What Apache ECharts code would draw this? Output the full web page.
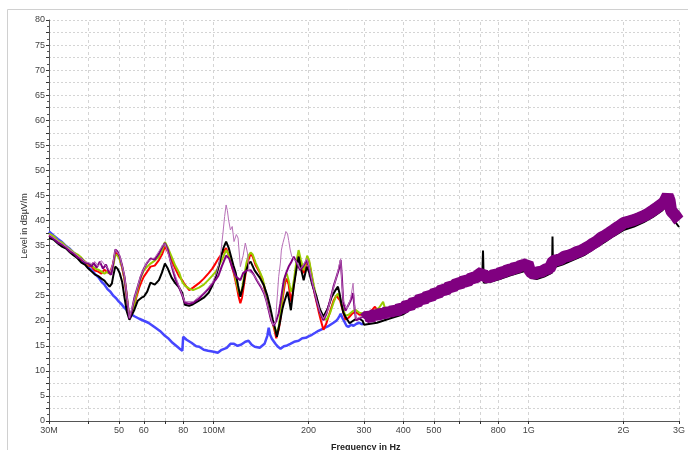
<!DOCTYPE html>
<html><head><meta charset="utf-8">
<script src="https://cdn.jsdelivr.net/npm/echarts@6/dist/echarts.min.js"></script>
<style>html,body{margin:0;padding:0;background:#fff}#c{width:688px;height:450px}</style>
</head><body><div id="c"></div>
<script>
// Frequencies in MHz, levels in dBµV/m
const xTickValues = [30,40,50,60,70,80,100,200,300,400,500,600,700,800,1000,2000,3000];
const xLabelValues = [30,50,60,80,100,200,300,400,500,800,1000,2000,3000];
const xLabelTexts = ['30M','50','60','80','100M','200','300','400','500','800','1G','2G','3G'];

const blueTrace = [[30,37.8],[31,37.0],[32,36.3],[33,35.7],[34,34.9],[35,34.3],[36,33.5],[37,32.9],[38,32.0],[39,31.5],[40,30.6],[41,30.1],[42,29.3],[43,28.7],[44,27.8],[45,27.2],[46,26.3],[47,25.8],[48,25.0],[49,24.5],[50,23.8],[51,23.3],[52,22.6],[53,22.1],[54,21.4],[55,21.2],[56,20.9],[58,20.4],[60,20.0],[62,19.6],[64,19.0],[66,18.4],[68,17.8],[70,17.0],[72,16.4],[74,15.6],[76,15.0],[78,14.4],[79.5,14.0],[80,16.8],[82,16.2],[85,15.6],[88,14.9],[90,14.8],[93,14.2],[96,14.0],[100,13.8],[103,13.6],[106,14.2],[110,14.6],[113,15.4],[116,15.4],[119,15.0],[122,15.2],[126,15.8],[129,16.0],[132,15.2],[135,14.8],[140,14.6],[145,15.4],[148,17.0],[149.5,18.6],[151,17.2],[153,16.4],[157,15.4],[160,14.8],[163,14.4],[167,14.9],[170,15.0],[175,15.4],[180,15.8],[186,16.0],[191,16.5],[196,16.6],[200,16.9],[205,17.2],[210,17.6],[215,18.0],[220,18.3],[225,18.6],[232,19.0],[240,19.6],[245,20.0],[248,20.4],[251,21.0],[253,21.4],[256,20.6],[260,19.8],[264,19.0],[268,18.8],[273,19.2],[278,19.0],[284,19.4],[290,19.6],[295,19.3],[300,19.5]];

const redTrace = [[30,37.0],[31,36.6],[32,35.8],[33,35.4],[34,34.6],[35,34.0],[36,33.4],[37,32.9],[38,32.2],[39,31.8],[40,31.0],[41,30.8],[42,30.0],[43,29.8],[44,29.4],[45,30.2],[46,29.6],[47,29.8],[48,31.5],[48.7,33.6],[49.5,33.2],[50.3,32.4],[51.2,30.6],[52.1,28.2],[52.8,25.5],[53.3,23.0],[54,20.6],[55,21.8],[56,23.2],[57,25.0],[58,26.6],[59,27.8],[60,28.8],[61.5,29.8],[63,30.8],[65,31.0],[67,32.1],[68.5,33.2],[70,34.8],[71.5,33.8],[73.5,32.1],[75.5,30.4],[77.7,28.8],[79.4,28.1],[81,27.2],[83.6,26.1],[86,26.6],[89.8,27.5],[93,28.4],[96.4,29.5],[99,30.4],[101.5,31.5],[104,32.6],[106.6,33.5],[109.5,34.5],[112,32.8],[114,31.0],[115.8,29.5],[118,27.2],[120,24.8],[121.5,23.5],[123,24.6],[125,27.5],[127,30.5],[129,32.2],[131,33.4],[133,32.8],[136,31.0],[140,29.6],[143,28.1],[146,25.6],[149.5,22.8],[152,20.6],[155,18.8],[158,16.5],[160.8,18.2],[163,20.5],[166,25.0],[168.5,27.6],[170.5,28.4],[173,27.2],[175.8,23.8],[178,25.5],[180,27.5],[183,30.8],[186,33.0],[189,31.5],[193,29.5],[196,31.0],[198,32.5],[201,31.6],[204,29.5],[208,26.2],[212,23.8],[216,21.5],[219,20.0],[223,18.2],[228,19.5],[234,21.8],[240,24.0],[245,25.0],[248,25.2],[252,24.0],[256,22.4],[262,20.2],[268,20.6],[275,21.4],[282,21.8],[290,21.2],[300,21.2],[315,21.8],[325,22.8],[335,21.6]];

const greenTrace = [[30,37.4],[31,36.9],[32,36.0],[33,35.6],[34,34.8],[35,34.2],[36,33.6],[37,33.2],[38,32.6],[39,31.8],[40,31.2],[41,31.0],[42,30.4],[43,30.2],[44,29.8],[45,29.4],[46,29.8],[47,29.2],[48,31.0],[48.7,33.2],[49.5,33.0],[50.3,32.2],[51.2,30.8],[52.1,28.4],[52.8,25.8],[53.3,23.5],[54,20.6],[55,21.6],[56,23.4],[57,25.6],[58,27.5],[59,29.0],[60,30.0],[61.5,30.8],[63,31.4],[65,32.0],[67,32.8],[68.5,34.0],[70,35.7],[71.5,34.6],[73.5,32.8],[75.5,31.0],[77.7,29.6],[79.4,27.8],[81,27.0],[83.6,26.4],[86,26.1],[89.8,26.6],[93,27.2],[96.4,28.2],[99,29.0],[101.5,29.8],[104,31.0],[106.6,32.4],[109.5,34.1],[112,33.0],[114,31.6],[115.8,30.0],[118,27.8],[120,25.8],[121.5,25.2],[123,26.4],[125,29.0],[127,31.5],[129,33.0],[131,33.6],[133,33.2],[136,31.5],[140,29.8],[143,28.4],[146,26.0],[149.5,23.2],[152,21.0],[155,19.2],[158,17.4],[160.8,18.8],[163,21.5],[166,26.0],[168.5,28.8],[170.5,29.4],[173,28.0],[175.8,25.8],[178,26.6],[180,28.4],[183,31.8],[186,34.1],[189,32.2],[193,30.1],[196,31.6],[198,33.0],[201,32.0],[204,29.8],[208,27.0],[212,24.5],[216,22.4],[219,21.0],[223,20.4],[228,20.2],[234,21.5],[240,23.6],[245,25.0],[248,25.4],[252,24.4],[256,22.8],[262,21.0],[268,21.2],[275,21.8],[282,22.2],[290,21.6],[300,21.4],[320,21.8],[335,22.6],[345,23.8],[350,22.4],[360,22.6]];

const blackTrace = [[30,36.5],[31,36.2],[32,35.4],[33,34.8],[34,34.4],[35,33.6],[36,33.0],[37,32.4],[38,31.6],[39,31.2],[40,30.4],[41,29.8],[42,29.2],[43,28.9],[44,28.4],[45,28.0],[45.5,27.6],[46.7,26.8],[47.5,27.4],[48,29.0],[48.7,30.8],[49.5,30.4],[50.3,29.5],[51.2,27.8],[52.1,24.6],[53,21.8],[54,20.2],[55,21.2],[56,22.2],[57.4,24.0],[59,24.6],[60,24.8],[61.5,25.8],[63,27.6],[65,27.2],[67,28.1],[68.5,29.6],[70,31.4],[71.5,30.4],[73.5,28.6],[75.5,27.5],[77.7,26.6],[79.4,25.6],[81,23.2],[83.6,23.0],[86,23.3],[89.8,24.0],[93,24.6],[96.4,25.6],[99,27.0],[101.5,28.8],[103.5,30.6],[105.5,32.8],[107.5,34.6],[109.5,35.8],[111.5,34.6],[113.5,32.8],[115.5,31.0],[117.5,29.5],[119.5,27.0],[121.5,24.8],[124,27.0],[126,29.5],[129,31.4],[131,31.8],[135,30.0],[140,28.6],[144,27.2],[148,25.0],[151,22.8],[154,20.2],[157,18.2],[158.7,16.8],[162,19.5],[165,22.2],[167,23.5],[171.5,25.8],[173.5,24.2],[175.8,22.1],[179.5,26.8],[183,30.2],[186,32.8],[189,30.5],[193,28.1],[197.6,30.8],[201,29.6],[206,27.0],[212,24.8],[217,22.4],[223,20.8],[230,22.4],[237,24.8],[243,26.0],[248,26.8],[251,25.4],[254,23.5],[258,21.6],[262,20.8],[270,19.5],[280,20.2],[290,20.4],[297,20.0],
  [300,19.2],[330,19.6],[360,20.4],[400,21.3],[445,23.3],[500,24.5],[545,25.5],[600,26.6],[660,27.6],[712,28.6],[716,34.0],[720,27.6],[760,27.8],[800,28.2],[880,29.1],[960,29.8],[995,30.0],[1010,28.6],[1060,28.3],[1120,28.8],[1186,29.6],[1190,36.8],[1194,30.6],[1280,31.2],[1380,32.1],[1500,33.1],[1620,34.5],[1740,35.7],[1860,36.9],[2000,38.1],[2160,38.8],[2320,39.7],[2480,40.7],[2640,41.9],[2760,43.1],[2800,42.7],[2830,40.7],[2920,39.7],[3000,38.7]];

const purpleTrace = [[30,37.0],[31,36.4],[32,35.6],[33,35.2],[34,34.6],[35,33.8],[36,33.4],[37,32.6],[38,32.4],[39,31.6],[40,31.4],[41,30.8],[41.5,31.6],[42.5,30.6],[43.5,31.8],[44.5,30.4],[45.5,31.2],[46.5,29.6],[47.3,29.2],[48,31.5],[48.7,34.2],[49.5,33.8],[50.3,32.8],[51.2,31.0],[52.1,28.8],[52.8,25.8],[53.3,23.5],[54,20.4],[55,22.2],[56,24.6],[57.4,26.8],[58.5,28.6],[60,30.4],[61.5,31.6],[63,32.4],[65,32.2],[67,33.4],[68.5,34.6],[70,35.5],[71.5,34.2],[73.5,31.0],[75.5,28.4],[77.7,26.6],[79.4,25.1],[81,23.6],[83.6,23.4],[86,23.6],[89.8,24.4],[93,25.4],[96.4,26.4],[99,27.4],[101.5,28.2],[103.5,29.0],[106,30.8],[109.5,33.0],[112,32.4],[114,31.0],[117.5,28.8],[121.5,28.1],[124,29.5],[127,30.0],[131,30.1],[134,29.2],[137,28.1],[141,26.8],[144.5,25.5],[147,24.0],[149.5,22.1],[152,20.2],[155,19.0],[158,20.0],[160.8,21.5],[162.8,23.5],[165,26.0],[167,28.1],[170,29.6],[173,30.8],[176,31.6],[179.5,32.8],[184,31.4],[188,30.1],[192,30.8],[197.6,32.1],[201,30.4],[206.8,26.8],[212,24.0],[217,21.8],[223,20.1],[228,21.4],[234,24.0],[240,26.8],[245,28.6],[250,30.4],[253,32.1],[255,29.0],[258,23.5],[262,22.0],[267,23.0],[272,24.0],[277,25.5],[280,22.5],[283,20.1],[290,20.4],[297,20.8],[300,20.6]];

const violetTrace = [[30,37.2],[33,35.4],[36,33.6],[39,31.8],[41,31.4],[42,31.8],[43,30.8],[44,32.0],[45,31.2],[46,30.6],[47,29.8],[48,31.8],[48.7,34.2],[50.3,33.0],[52.1,29.0],[53.3,23.8],[54,20.6],[56,24.4],[58.5,28.8],[61.5,31.8],[65,32.6],[68.5,34.8],[70,35.4],[73.5,31.2],[77.7,26.8],[81,23.8],[86,23.8],[93,25.6],[99,27.6],[102,29.5],[104,31.5],[105.5,34.0],[107,37.5],[108.3,40.8],[109.5,43.1],[110.5,42.0],[111.5,40.1],[113,38.1],[114.5,38.8],[116,35.8],[118,37.2],[119.5,36.5],[121.5,30.8],[124,33.0],[126,35.5],[128,33.5],[129.5,29.8],[133,29.4],[137,28.2],[141,27.0],[145,25.4],[149.5,22.2],[154,19.2],[157,19.6],[160.8,28.8],[162.8,31.5],[164,34.1],[166,35.6],[168,36.8],[169.5,37.8],[171.5,37.4],[173,36.0],[175,34.1],[177,32.8],[179.5,33.0],[184,31.6],[188,30.4],[192,31.0],[197.6,32.4],[201,30.8],[206.8,27.0],[212,24.2],[217,22.0],[223,20.4],[230,22.0],[240,26.6],[246,29.0],[250,31.0],[253,32.4],[255,28.0],[258,24.0],[265,22.4],[272,24.4],[277,27.5],[280,23.0],[283,20.4],[292,20.8],[300,20.8]];

const bandTrace = [[300,20.4],[308,21.0],[316,20.6],[324,21.4],[332,20.9],[340,21.7],[348,21.2],[356,22.0],[364,21.5],[372,22.2],[381,21.8],[390,22.6],[400,22.3],[410,23.2],[420,22.9],[431,23.8],[442,23.5],[453,24.5],[465,24.2],[477,25.0],[490,24.8],[503,25.6],[516,25.4],[530,26.3],[545,26.0],[560,26.9],[575,26.7],[590,27.5],[606,27.3],[622,28.0],[640,27.8],[658,28.6],[676,28.5],[694,29.2],[712,29.7],[722,28.6],[740,28.8],[758,28.7],[777,29.3],[796,29.1],[815,29.7],[835,29.6],[856,30.2],[878,30.1],[900,30.6],[922,30.5],[945,31.1],[968,31.0],[992,31.5],[1010,29.8],[1040,29.3],[1070,29.7],[1100,29.8],[1135,30.3],[1165,30.4],[1195,31.9],[1230,32.1],[1265,32.3],[1300,32.8],[1340,33.0],[1380,33.3],[1420,33.7],[1460,33.9],[1500,34.3],[1550,34.8],[1600,35.4],[1650,35.9],[1700,36.6],[1750,37.0],[1800,37.5],[1860,38.1],[1930,38.8],[2000,39.5],[2080,39.8],[2160,40.1],[2240,40.5],[2320,40.9],[2400,41.4],[2480,42.0],[2560,42.6],[2640,43.2],[2700,43.8],[2760,45.0],[2800,44.0],[2830,42.0],[2860,41.6],[2920,41.0],[2980,40.2],[3000,40.0]];

const FONT = "'Liberation Sans Narrow','Arial Narrow','Liberation Sans',sans-serif";
const chart = echarts.init(document.getElementById('c'), null, {renderer:'canvas'});

function line(data, color, width, z){
  return {type:'line', data:data, symbol:'none', showSymbol:false, sampling:null, animation:false,
    lineStyle:{color:color, width:width}, itemStyle:{color:color}, z:z, silent:true};
}

chart.setOption({
  animation:false,
  backgroundColor:'#ffffff',
  grid:{left:49, right:5, top:20, bottom:29, containLabel:false},
  xAxis:{
    type:'log', logBase:10, min:30, max:3000,
    axisLine:{show:true, lineStyle:{color:'#555', width:1}},
    axisTick:{show:true, length:3, customValues:xTickValues, lineStyle:{color:'#333'}},
    minorTick:{show:false},
    axisLabel:{show:true, customValues:xLabelValues, margin:5, fontSize:9, color:'#444', fontFamily:FONT,
      formatter:function(v){ const i = xLabelValues.findIndex(a=>Math.abs(a-v)<1e-6); return i>=0 ? xLabelTexts[i] : ''; }},
    splitLine:{show:false}
  },
  yAxis:{
    type:'value', min:0, max:80, interval:2.5,
    axisLine:{show:true, lineStyle:{color:'#555', width:1}},
    axisTick:{show:true, length:3, lineStyle:{color:'#333'}},
    minorTick:{show:true, splitNumber:2, length:2, lineStyle:{color:'#555'}},
    axisLabel:{margin:4, fontSize:9, color:'#444', fontFamily:FONT,
      formatter:function(v){ return (Math.abs(v%5)<1e-6) ? String(v) : ''; }},
    splitLine:{show:true, lineStyle:{color:'#d4d4d4', type:[2,2], width:1}}
  },
  graphic:[
    {type:'rect', shape:{x:7.5, y:9.5, width:720, height:470}, style:{fill:'none', stroke:'#d0d0d0', lineWidth:1}, z:-10, silent:true},
    {type:'text', left:331, top:443, style:{text:'Frequency in Hz', fontSize:9, fontWeight:'bold', fontFamily:FONT, fill:'#222'}, silent:true},
    {type:'text', x:25, y:226, rotation:Math.PI/2, style:{text:'Level in dBµV/m', fontSize:9, fontFamily:FONT, fill:'#333', textAlign:'center', textVerticalAlign:'middle'}, silent:true}
  ],
  series:[
    {type:'line', data:[], z:0, silent:true, markLine:{z:0, silent:true, symbol:'none', animation:false,
      label:{show:false}, lineStyle:{color:'#d4d4d4', type:[3,3], width:1},
      data:xTickValues.slice(1).map(v=>({xAxis:v}))}},
    line(blueTrace, '#4646ff', 2.5, 3),
    line(redTrace, '#ff0000', 2, 3),
    line(greenTrace, '#99cc00', 2, 3),
    line(blackTrace, '#000000', 2, 3),
    line(purpleTrace, '#800080', 2, 3),
    line(violetTrace, '#b870b8', 1, 3),
    line(bandTrace, '#800080', 12, 3)
  ]
});
</script></body></html>
